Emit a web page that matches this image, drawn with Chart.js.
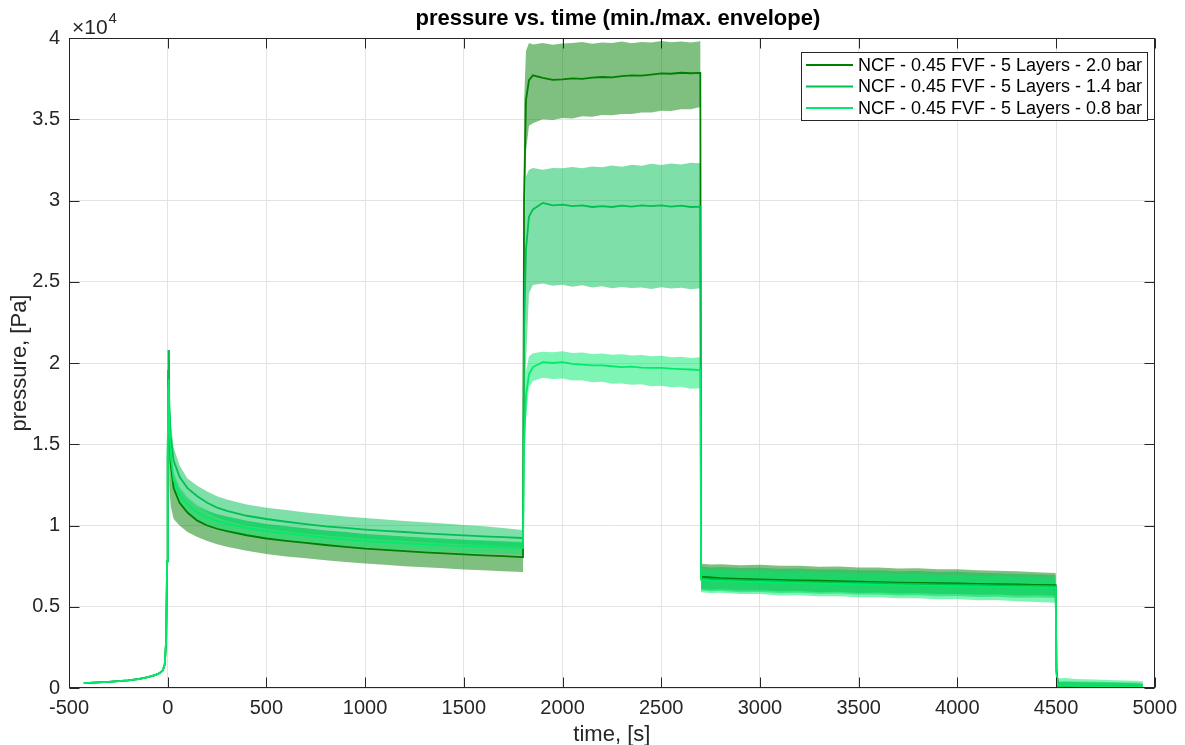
<!DOCTYPE html>
<html>
<head>
<meta charset="utf-8">
<title>pressure vs. time</title>
<script src="https://cdn.jsdelivr.net/npm/chart.js@4.4.1/dist/chart.umd.min.js"></script>
<style>
  body { margin: 0; background: #fff; }
  canvas { display: block; }
</style>
</head>
<body>
<canvas id="myChart" width="1185" height="745"></canvas>
<script>
// time axis shared by all runs, [s]
const timeS = [
  -425, -400, -300, -200, -150, -100, -60, -40, -25, -15, -8, -3, 0, 3,
  5, 8, 15, 30, 60, 100, 150, 200, 250, 300, 400, 500, 600, 700, 800, 900, 1000, 1100, 1200, 1300, 1400, 1500, 1600, 1700, 1795,
  1800, 1805, 1815, 1830, 1850, 1900, 1950, 2000, 2050, 2100, 2150, 2200, 2250, 2300, 2350, 2400, 2450, 2500, 2550, 2600, 2650, 2698,
  2702, 2750, 2800, 2900, 3000, 3100, 3200, 3300, 3400, 3500, 3600, 3700, 3800, 3900, 4000, 4100, 4200, 4300, 4400, 4498,
  4502, 4510, 4550, 4600, 4700, 4800, 4900, 4940
]

const seriesLabels = [
  'NCF - 0.45 FVF - 5 Layers - 2.0 bar',
  'NCF - 0.45 FVF - 5 Layers - 1.4 bar',
  'NCF - 0.45 FVF - 5 Layers - 0.8 bar'
]

// 2.0 bar: mean / max / min [Pa]
const mean20 = [
  300, 320, 380, 470, 550, 670, 810, 920, 1080, 1450, 2900, 7800, 14000, 19500,
  20800, 16000, 13800, 12300, 11400, 10800, 10300, 10000, 9800, 9650, 9400, 9200, 9060, 8930, 8800, 8690, 8580, 8500, 8420, 8350, 8280, 8220, 8160, 8110, 8060,
  8060, 30000, 36200, 37400, 37700, 37550, 37420, 37450, 37520, 37480, 37560, 37600, 37580, 37650, 37700, 37680, 37750, 37820, 37800, 37860, 37830, 37850,
  6850, 6800, 6760, 6720, 6690, 6650, 6620, 6600, 6570, 6540, 6520, 6490, 6470, 6450, 6430, 6410, 6390, 6370, 6350, 6330,
  1200, 150, 120, 110, 100, 90, 80, 60
]
const max20 = [
  330, 350, 410, 500, 580, 700, 840, 950, 1120, 1500, 3000, 8000, 14300, 19800,
  20900, 16800, 14700, 13200, 12300, 11700, 11200, 10900, 10700, 10550, 10300, 10100, 9950, 9830, 9700, 9600, 9480, 9400, 9320, 9250, 9180, 9120, 9060, 9010, 8950,
  8950, 36000, 39200, 39700, 39600, 39700, 39580, 39660, 39700, 39760, 39640, 39720, 39700, 39790, 39680, 39750, 39720, 39820, 39740, 39790, 39720, 39800,
  7650, 7600, 7620, 7550, 7580, 7520, 7520, 7460, 7470, 7410, 7420, 7360, 7370, 7310, 7310, 7250, 7210, 7180, 7130, 7080,
  1500, 350, 380, 360, 340, 320, 300, 250
]
const min20 = [
  270, 290, 350, 440, 520, 640, 780, 890, 1040, 1400, 2800, 7600, 13700, 19200,
  20700, 12500, 11200, 10400, 10000, 9600, 9300, 9050, 8850, 8700, 8450, 8250, 8100, 7980, 7860, 7760, 7660, 7580, 7500, 7430, 7370, 7300, 7240, 7190, 7140,
  7140, 24000, 33000, 34600, 34750, 35000, 34950, 35080, 35050, 35180, 35150, 35260, 35250, 35330, 35320, 35420, 35420, 35520, 35510, 35620, 35620, 35750,
  6100, 6050, 6070, 6000, 6010, 5950, 5970, 5900, 5920, 5850, 5870, 5820, 5830, 5780, 5790, 5740, 5750, 5700, 5710, 5680,
  800, 0, 0, 0, 0, 0, 0, 0
]

// 1.4 bar
const mean14 = [
  300, 320, 380, 470, 550, 670, 810, 920, 1080, 1450, 2900, 7800, 14000, 19500,
  20800, 17500, 15500, 14000, 13000, 12300, 11800, 11400, 11100, 10900, 10600, 10400, 10230, 10080, 9950, 9850, 9750, 9670, 9600, 9520, 9450, 9390, 9330, 9280, 9230,
  9230, 22000, 27000, 29000, 29450, 29850, 29700, 29750, 29650, 29700, 29600, 29650, 29600, 29680, 29620, 29700, 29650, 29700, 29620, 29680, 29600, 29620,
  6750, 6700, 6680, 6640, 6610, 6570, 6550, 6520, 6500, 6470, 6450, 6420, 6400, 6380, 6360, 6340, 6320, 6300, 6290, 6270,
  1000, 120, 110, 100, 100, 90, 80, 70
]
const max14 = [
  330, 350, 410, 500, 580, 700, 840, 950, 1120, 1500, 3000, 8000, 14300, 19800,
  20900, 18500, 16400, 14800, 13700, 12900, 12450, 12100, 11800, 11600, 11300, 11100, 10950, 10800, 10680, 10560, 10460, 10370, 10280, 10200, 10120, 10030, 9950, 9850, 9720,
  9720, 26000, 31500, 31900, 32000, 31900, 32000, 31980, 32060, 31980, 32100, 32040, 32150, 32080, 32200, 32140, 32260, 32180, 32280, 32220, 32330, 32300,
  7500, 7420, 7450, 7380, 7400, 7340, 7350, 7290, 7300, 7240, 7250, 7190, 7200, 7140, 7150, 7090, 7060, 7020, 6990, 6950,
  1200, 400, 420, 400, 380, 360, 340, 300
]
const min14 = [
  270, 290, 350, 440, 520, 640, 780, 890, 1040, 1400, 2800, 7600, 13700, 19200,
  20700, 16500, 14600, 13200, 12300, 11700, 11200, 10800, 10500, 10300, 10000, 9800, 9650, 9500, 9380, 9280, 9190, 9110, 9040, 8970, 8900, 8840, 8780, 8730, 8680,
  8680, 15000, 20000, 24300, 24800, 24900, 24750, 24820, 24700, 24780, 24650, 24720, 24600, 24680, 24620, 24650, 24550, 24660, 24580, 24630, 24540, 24600,
  6000, 5950, 5970, 5900, 5910, 5850, 5860, 5800, 5810, 5750, 5760, 5700, 5710, 5650, 5660, 5600, 5610, 5560, 5570, 5540,
  700, 0, 0, 0, 0, 0, 0, 0
]

// 0.8 bar
const mean08 = [
  300, 320, 380, 470, 550, 670, 810, 920, 1080, 1450, 2900, 7800, 14000, 18500,
  19000, 16500, 14300, 12800, 11900, 11300, 10800, 10500, 10280, 10100, 9850, 9650, 9520, 9380, 9250, 9150, 9050, 8970, 8900, 8840, 8780, 8730, 8700, 8660, 8620,
  8620, 15000, 18000, 19300, 19750, 20050, 20000, 20050, 19950, 19900, 19850, 19850, 19800, 19750, 19780, 19720, 19700, 19700, 19650, 19620, 19600, 19570,
  6650, 6600, 6580, 6540, 6510, 6480, 6450, 6420, 6400, 6370, 6350, 6320, 6300, 6280, 6260, 6240, 6220, 6200, 6190, 6170,
  900, 150, 140, 130, 120, 110, 100, 80
]
const max08 = [
  330, 350, 410, 500, 580, 700, 840, 950, 1120, 1500, 3000, 8000, 14300, 18800,
  19200, 17000, 14800, 13300, 12400, 11750, 11250, 10950, 10700, 10520, 10270, 10060, 9920, 9780, 9650, 9550, 9450, 9370, 9300, 9240, 9180, 9130, 9090, 9050, 9000,
  9000, 17000, 19500, 20400, 20600, 20700, 20660, 20720, 20620, 20640, 20560, 20590, 20510, 20540, 20460, 20490, 20410, 20440, 20360, 20390, 20310, 20350,
  7300, 7250, 7260, 7200, 7210, 7150, 7160, 7100, 7110, 7050, 7060, 7000, 7010, 6950, 6960, 6900, 6910, 6850, 6860, 6800,
  1100, 600, 620, 560, 520, 480, 450, 420
]
const min08 = [
  270, 290, 350, 440, 520, 640, 780, 890, 1040, 1400, 2800, 7600, 13700, 18200,
  18800, 16000, 13800, 12300, 11400, 10850, 10350, 10050, 9850, 9680, 9430, 9240, 9120, 8980, 8850, 8750, 8650, 8570, 8500, 8440, 8380, 8330, 8300, 8260, 8220,
  8220, 13000, 16500, 18500, 18900, 19100, 19020, 19040, 18920, 18940, 18820, 18840, 18720, 18740, 18660, 18690, 18570, 18600, 18510, 18540, 18420, 18450,
  5900, 5850, 5860, 5780, 5790, 5700, 5710, 5640, 5650, 5580, 5590, 5520, 5530, 5460, 5470, 5400, 5410, 5340, 5300, 5250,
  600, 0, 0, 0, 0, 0, 0, 0
]

const xTicks = [-500, 0, 500, 1000, 1500, 2000, 2500, 3000, 3500, 4000, 4500, 5000]
const yTicks = [0, 5000, 10000, 15000, 20000, 25000, 30000, 35000, 40000]

const lineColors = ['rgb(0,128,0)', 'rgb(0,192,82)', 'rgb(0,235,108)']
const fillColors = ['rgba(0,128,0,0.5)', 'rgba(0,192,82,0.5)', 'rgba(0,235,108,0.5)']

const pts = (arr) => timeS.map((t, i) => ({ x: t, y: arr[i] }))

const envelope = (maxArr, minArr, k) => [
  { data: pts(maxArr), borderWidth: 0, pointRadius: 0, backgroundColor: fillColors[k], fill: '+1', order: 9 - 2 * k, isEnv: true },
  { data: pts(minArr), borderWidth: 0, pointRadius: 0, fill: false, order: 8 - 2 * k, isEnv: true }
]

const meanLine = (arr, k) => ({
  label: seriesLabels[k], data: pts(arr), borderColor: lineColors[k], borderWidth: 1.8,
  pointRadius: 0, fill: false, order: 3 - k
})

const FONT = "'Liberation Sans', Arial, Helvetica, sans-serif"

const matlabLook = {
  id: 'matlabLook',
  afterDraw(chart) {
    const { ctx, chartArea: a, scales: { x, y } } = chart
    ctx.save()
    ctx.strokeStyle = '#262626'
    ctx.lineWidth = 1
    const L = Math.round(a.left) + 0.5, R = Math.round(a.right) - 0.5
    const T = Math.round(a.top) + 0.5, B = Math.round(a.bottom) - 0.5
    ctx.strokeRect(L, T, R - L, B - T)
    ctx.beginPath()
    xTicks.forEach(v => {
      const px = Math.round(x.getPixelForValue(v)) + 0.5
      ctx.moveTo(px, B); ctx.lineTo(px, B - 10)
      ctx.moveTo(px, T); ctx.lineTo(px, T + 10)
    })
    yTicks.forEach(v => {
      const py = Math.round(y.getPixelForValue(v)) + 0.5
      ctx.moveTo(L, py); ctx.lineTo(L + 10, py)
      ctx.moveTo(R, py); ctx.lineTo(R - 10, py)
    })
    ctx.stroke()

    // exponent label
    ctx.fillStyle = '#262626'
    ctx.textBaseline = 'alphabetic'
    ctx.textAlign = 'left'
    ctx.font = '21px ' + FONT
    ctx.fillText('\u00d710', a.left + 3, 34)
    const w = ctx.measureText('\u00d710').width
    ctx.font = '15px ' + FONT
    ctx.fillText('4', a.left + 3 + w + 1, 23)

    // title
    ctx.fillStyle = '#000'
    ctx.font = 'bold 22px ' + FONT
    ctx.textAlign = 'center'
    ctx.textBaseline = 'middle'
    ctx.fillText('pressure vs. time (min./max. envelope)', (a.left + a.right) / 2 + 6, 19)

    // legend box
    const lx = 801, ly = 52, lw = 346, lh = 68
    ctx.fillStyle = '#fff'
    ctx.fillRect(lx, ly, lw, lh)
    ctx.strokeStyle = '#262626'
    ctx.lineWidth = 1
    ctx.strokeRect(lx + 0.5, ly + 0.5, lw, lh)
    ctx.font = '18px ' + FONT
    ctx.textAlign = 'left'
    const lines = chart.data.datasets.filter(d => !d.isEnv)
    lines.forEach((d, i) => {
      const yy = ly + 13 + i * 21.5
      ctx.strokeStyle = d.borderColor
      ctx.lineWidth = 1.8
      ctx.beginPath()
      ctx.moveTo(lx + 5, yy); ctx.lineTo(lx + 52, yy)
      ctx.stroke()
      ctx.fillStyle = '#000'
      ctx.fillText(d.label, lx + 57, yy + 1)
    })
    ctx.restore()
  }
}

const config = {
  type: 'line',
  data: {
    datasets: [
      ...envelope(max20, min20, 0),
      ...envelope(max14, min14, 1),
      ...envelope(max08, min08, 2),
      meanLine(mean20, 0),
      meanLine(mean14, 1),
      meanLine(mean08, 2)
    ]
  },
  options: {
    responsive: false,
    animation: false,
    layout: { padding: { top: 38, right: 25, left: 0, bottom: 0 } },
    plugins: { legend: { display: false }, tooltip: { enabled: false } },
    elements: { line: { tension: 0 } },
    scales: {
      x: {
        type: 'linear', min: -500, max: 5000,
        afterBuildTicks: (s) => { s.ticks = xTicks.map(v => ({ value: v })) },
        afterFit: (s) => { s.height = 57 },
        ticks: { color: '#262626', font: { size: 20, family: FONT }, padding: 8, maxRotation: 0, callback: (v) => String(v) },
        grid: { color: '#e3e3e3', drawTicks: false },
        border: { display: false },
        title: { display: true, text: 'time, [s]', color: '#262626', font: { size: 22, family: FONT, lineHeight: 0.9 }, padding: { bottom: 0, top: 0 } }
      },
      y: {
        type: 'linear', min: 0, max: 40000,
        afterBuildTicks: (s) => { s.ticks = yTicks.map(v => ({ value: v })) },
        afterFit: (s) => { s.width = 69 },
        ticks: { color: '#262626', font: { size: 20, family: FONT }, padding: 9, callback: (v) => String(v / 10000) },
        grid: { color: '#e3e3e3', drawTicks: false },
        border: { display: false },
        title: { display: true, text: 'pressure, [Pa]', color: '#262626', font: { size: 22, family: FONT }, padding: { top: 7, bottom: 0 } }
      }
    }
  },
  plugins: [matlabLook]
}

const myChart = new Chart(document.getElementById('myChart'), config)
</script>
</body>
</html>
